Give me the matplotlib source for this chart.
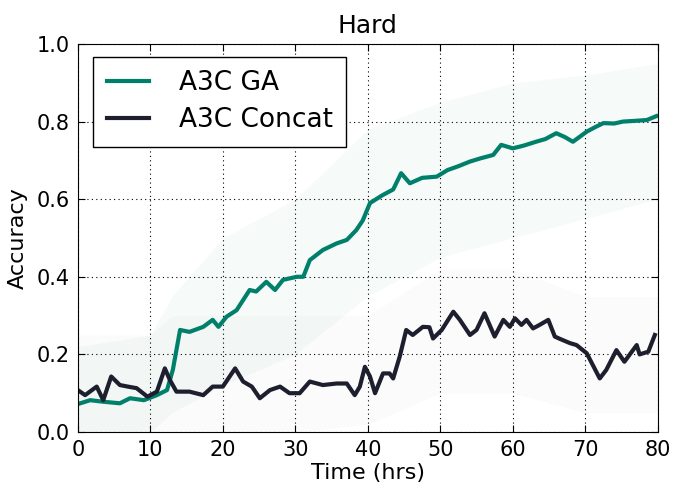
import matplotlib
matplotlib.use("Agg")
import matplotlib.pyplot as plt

# smoothed curves
ga_t = [0.0, 1.7, 3.5, 5.8, 7.2, 9.1, 10.9, 12.3, 13.1, 14.1, 15.4, 17.3,
        18.6, 19.4, 20.5, 21.9, 23.7, 24.6, 26.0, 27.2, 28.3, 30.2, 31.1,
        32.0, 33.8, 35.7, 37.1, 38.4, 39.3, 40.3, 42.0, 43.5, 44.6, 45.8,
        47.5, 49.5, 51.0, 52.5, 54.1, 55.5, 57.3, 58.4, 60.0, 61.5, 63.2,
        64.5, 66.0, 67.2, 68.3, 70.2, 71.3, 72.5, 74.0, 75.2, 77.0, 78.5,
        79.8]
ga_acc = [0.072, 0.082, 0.078, 0.074, 0.087, 0.082, 0.095, 0.108, 0.16,
          0.263, 0.258, 0.271, 0.289, 0.271, 0.297, 0.314, 0.366, 0.362,
          0.387, 0.366, 0.392, 0.40, 0.40, 0.443, 0.469, 0.486, 0.495, 0.52,
          0.545, 0.59, 0.61, 0.625, 0.667, 0.641, 0.655, 0.658, 0.675,
          0.685, 0.697, 0.705, 0.714, 0.740, 0.731, 0.738, 0.748, 0.755,
          0.77, 0.76, 0.748, 0.774, 0.785, 0.796, 0.795, 0.80, 0.802,
          0.804, 0.814]

concat_t = [0.0, 1.0, 2.6, 3.5, 4.6, 5.8, 6.9, 8.1, 9.6, 10.9, 12.0, 12.7,
            13.6, 15.4, 17.3, 18.6, 20.0, 21.7, 22.8, 24.0, 25.1, 26.5,
            27.9, 29.2, 30.6, 32.0, 33.8, 35.7, 37.1, 38.2, 38.9, 39.6,
            40.3, 41.0, 42.1, 43.0, 43.5, 44.4, 45.3, 46.2, 47.6, 48.5,
            49.0, 50.2, 51.8, 52.7, 54.1, 55.0, 56.1, 57.5, 58.7, 59.6,
            60.3, 61.2, 61.9, 62.8, 63.7, 64.9, 65.8, 66.5, 67.9, 68.8,
            70.2, 72.0, 72.9, 74.3, 75.4, 77.1, 77.5, 78.7, 79.6]
concat_acc = [0.108, 0.095, 0.117, 0.082, 0.143, 0.121, 0.117, 0.113,
              0.091, 0.104, 0.164, 0.134, 0.104, 0.104, 0.095, 0.117,
              0.117, 0.164, 0.13, 0.117, 0.087, 0.108, 0.117, 0.10, 0.10,
              0.13, 0.121, 0.125, 0.125, 0.095, 0.117, 0.168, 0.143, 0.10,
              0.151, 0.151, 0.138, 0.194, 0.263, 0.25, 0.271, 0.27, 0.241,
              0.263, 0.31, 0.289, 0.25, 0.263, 0.306, 0.246, 0.289, 0.271,
              0.293, 0.276, 0.289, 0.267, 0.276, 0.289, 0.246, 0.24, 0.229,
              0.224, 0.203, 0.138, 0.16, 0.211, 0.181, 0.224, 0.20, 0.207,
              0.25]

# rough envelope of the faint raw runs behind each curve
band_t = [0, 10, 13, 20, 30, 40, 50, 60, 70, 80]
ga_lo = [0.0, 0.0, 0.05, 0.12, 0.2, 0.35, 0.45, 0.5, 0.55, 0.6]
ga_hi = [0.22, 0.25, 0.35, 0.5, 0.6, 0.78, 0.85, 0.9, 0.92, 0.95]
concat_lo = [0.0, 0.0, 0.0, 0.0, 0.0, 0.02, 0.1, 0.1, 0.05, 0.05]
concat_hi = [0.25, 0.25, 0.3, 0.3, 0.3, 0.3, 0.42, 0.42, 0.35, 0.35]

GA_COLOR = "#00806b"
CONCAT_COLOR = "#1e1f2e"

fig = plt.figure(figsize=(6.83, 4.94), dpi=100)
ax = fig.add_axes([0.114, 0.1255, 0.849, 0.7855])

ax.fill_between(band_t, ga_lo, ga_hi, color=GA_COLOR, alpha=0.035, lw=0)
ax.fill_between(band_t, concat_lo, concat_hi, color=CONCAT_COLOR,
                alpha=0.015, lw=0)
ax.plot(ga_t, ga_acc, color=GA_COLOR, lw=3, label="A3C GA")
ax.plot(concat_t, concat_acc, color=CONCAT_COLOR, lw=3, label="A3C Concat")

ax.set_xlim(0, 80)
ax.set_ylim(0, 1)
ax.set_xticks(range(0, 81, 10))
ax.set_yticks([0.0, 0.2, 0.4, 0.6, 0.8, 1.0])
ax.set_yticklabels(["0.0", "0.2", "0.4", "0.6", "0.8", "1.0"])
ax.tick_params(direction="in", top=True, right=True, labelsize=15,
               length=5, pad=6)
ax.grid(True, color="black", linestyle=(0, (1, 3)), lw=0.8)
ax.set_xlabel("Time (hrs)", fontsize=16, labelpad=2)
ax.set_ylabel("Accuracy", fontsize=16, labelpad=6)
ax.set_title("Hard", fontsize=18, pad=8)

leg = ax.legend(loc="upper left", fontsize=19, fancybox=False,
                framealpha=1, edgecolor="black", handlelength=1.6,
                handletextpad=1.15, borderpad=0.5, labelspacing=0.42,
                bbox_to_anchor=(0.004, 1.0))
leg.get_frame().set_linewidth(1.0)

fig.savefig("out.png", dpi=100)
